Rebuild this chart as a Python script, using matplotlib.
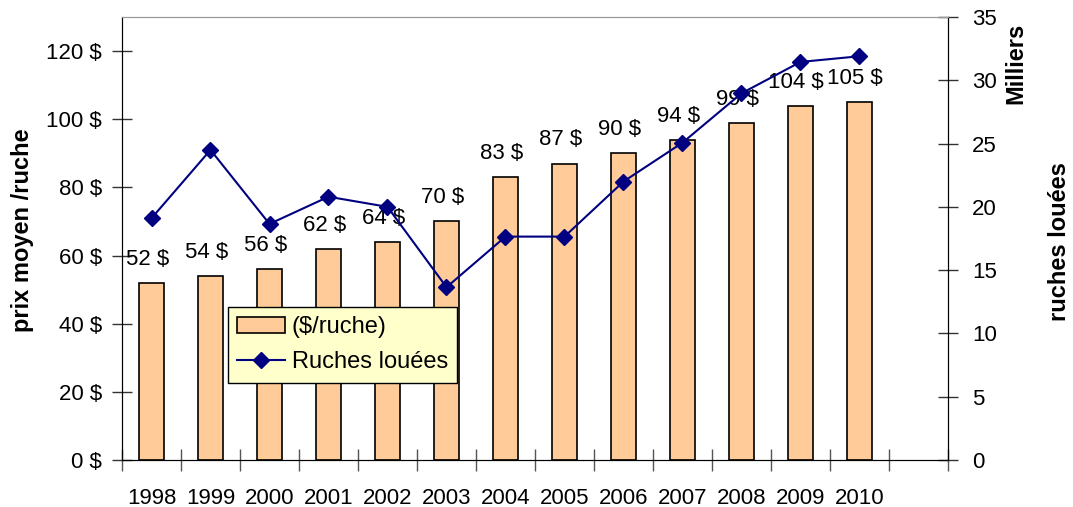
import numpy as np
import matplotlib.pyplot as plt

plt.rcParams['font.family'] = ['Liberation Sans', 'DejaVu Sans']

# data
years = ['1998', '1999', '2000', '2001', '2002', '2003', '2004',
         '2005', '2006', '2007', '2008', '2009', '2010']
prix = [52, 54, 56, 62, 64, 70, 83, 87, 90, 94, 99, 104, 105]
ruches = [19.1, 24.5, 18.65, 20.8, 20.0, 13.65, 17.65,
          17.65, 22.0, 25.07, 28.97, 31.45, 31.9]
left_ticks = [0, 20, 40, 60, 80, 100, 120]
right_ticks = [0, 5, 10, 15, 20, 25, 30, 35]

fig = plt.figure(figsize=(10.73, 5.07), dpi=100)
ax = fig.add_axes([122/1073, 1 - 460/507, 826/1073, 443/507])
ax2 = ax.twinx()

x = np.arange(len(years)) + 0.5

# bars for the average price
bars = ax.bar(x, prix, width=0.42, color='#FFCC99', edgecolor='black',
              linewidth=1.2, label='($/ruche)', zorder=2)
for xi, v in zip(x, prix):
    ax.annotate(f'{v} $', (xi, v), xytext=(-3, 13), textcoords='offset points',
                ha='center', va='baseline', fontsize=16, zorder=5)

# line for rented hives
line, = ax2.plot(x, ruches, color='#000080', linewidth=1.5, marker='D',
                 markersize=8, label='Ruches louées', zorder=3)

ax.set_xlim(0, len(years) + 1)
ax.set_ylim(0, 130)
ax2.set_ylim(0, 35)

ax.set_xticks(np.arange(0, len(years) + 2))
ax.set_xticklabels([])
ax.set_xticks(x, minor=True)
ax.set_xticklabels(years, minor=True, fontsize=16)
ax.tick_params(axis='x', which='major', direction='inout', length=16, width=1, color='#555555')
ax.tick_params(axis='x', which='minor', length=0, pad=20)

ax.set_yticks(left_ticks)
ax.set_yticklabels([f'{t} $' for t in left_ticks], fontsize=16)
ax.tick_params(axis='y', direction='inout', length=15, width=1, pad=7, color='#333333')

ax2.set_yticks(right_ticks)
ax2.set_yticklabels([str(t) for t in right_ticks], fontsize=16)
ax2.tick_params(axis='y', direction='inout', length=15, width=1, pad=10, color='#333333')

for a in (ax, ax2):
    a.spines['top'].set_color('#999999')
    a.spines['left'].set_color('black')
    a.spines['right'].set_color('black')
    a.spines['bottom'].set_color('black')
    a.patch.set_visible(False)

fig.text(23/1073, 1 - 230/507, 'prix moyen /ruche', rotation=90, fontsize=17,
         fontweight='bold', ha='center', va='center')
fig.text(1016/1073, 1 - 63/507, 'Milliers', rotation=90, fontsize=17,
         fontweight='bold', ha='center', va='center')
fig.text(1060/1073, 1 - 242/507, 'ruches louées', rotation=90, fontsize=17,
         fontweight='bold', ha='center', va='center')

leg = ax2.legend([bars, line], ['($/ruche)', 'Ruches louées'], loc='upper left',
                 bbox_to_anchor=(106/826, 153/443), borderaxespad=0, fontsize=17,
                 fancybox=False, framealpha=1, facecolor='#FFFFCC', edgecolor='black',
                 handlelength=2.0, handletextpad=0.3, labelspacing=0.55, borderpad=0.4)
leg.get_frame().set_linewidth(1)
leg.set_zorder(10)

fig.savefig('out.png', dpi=100, facecolor='white')
